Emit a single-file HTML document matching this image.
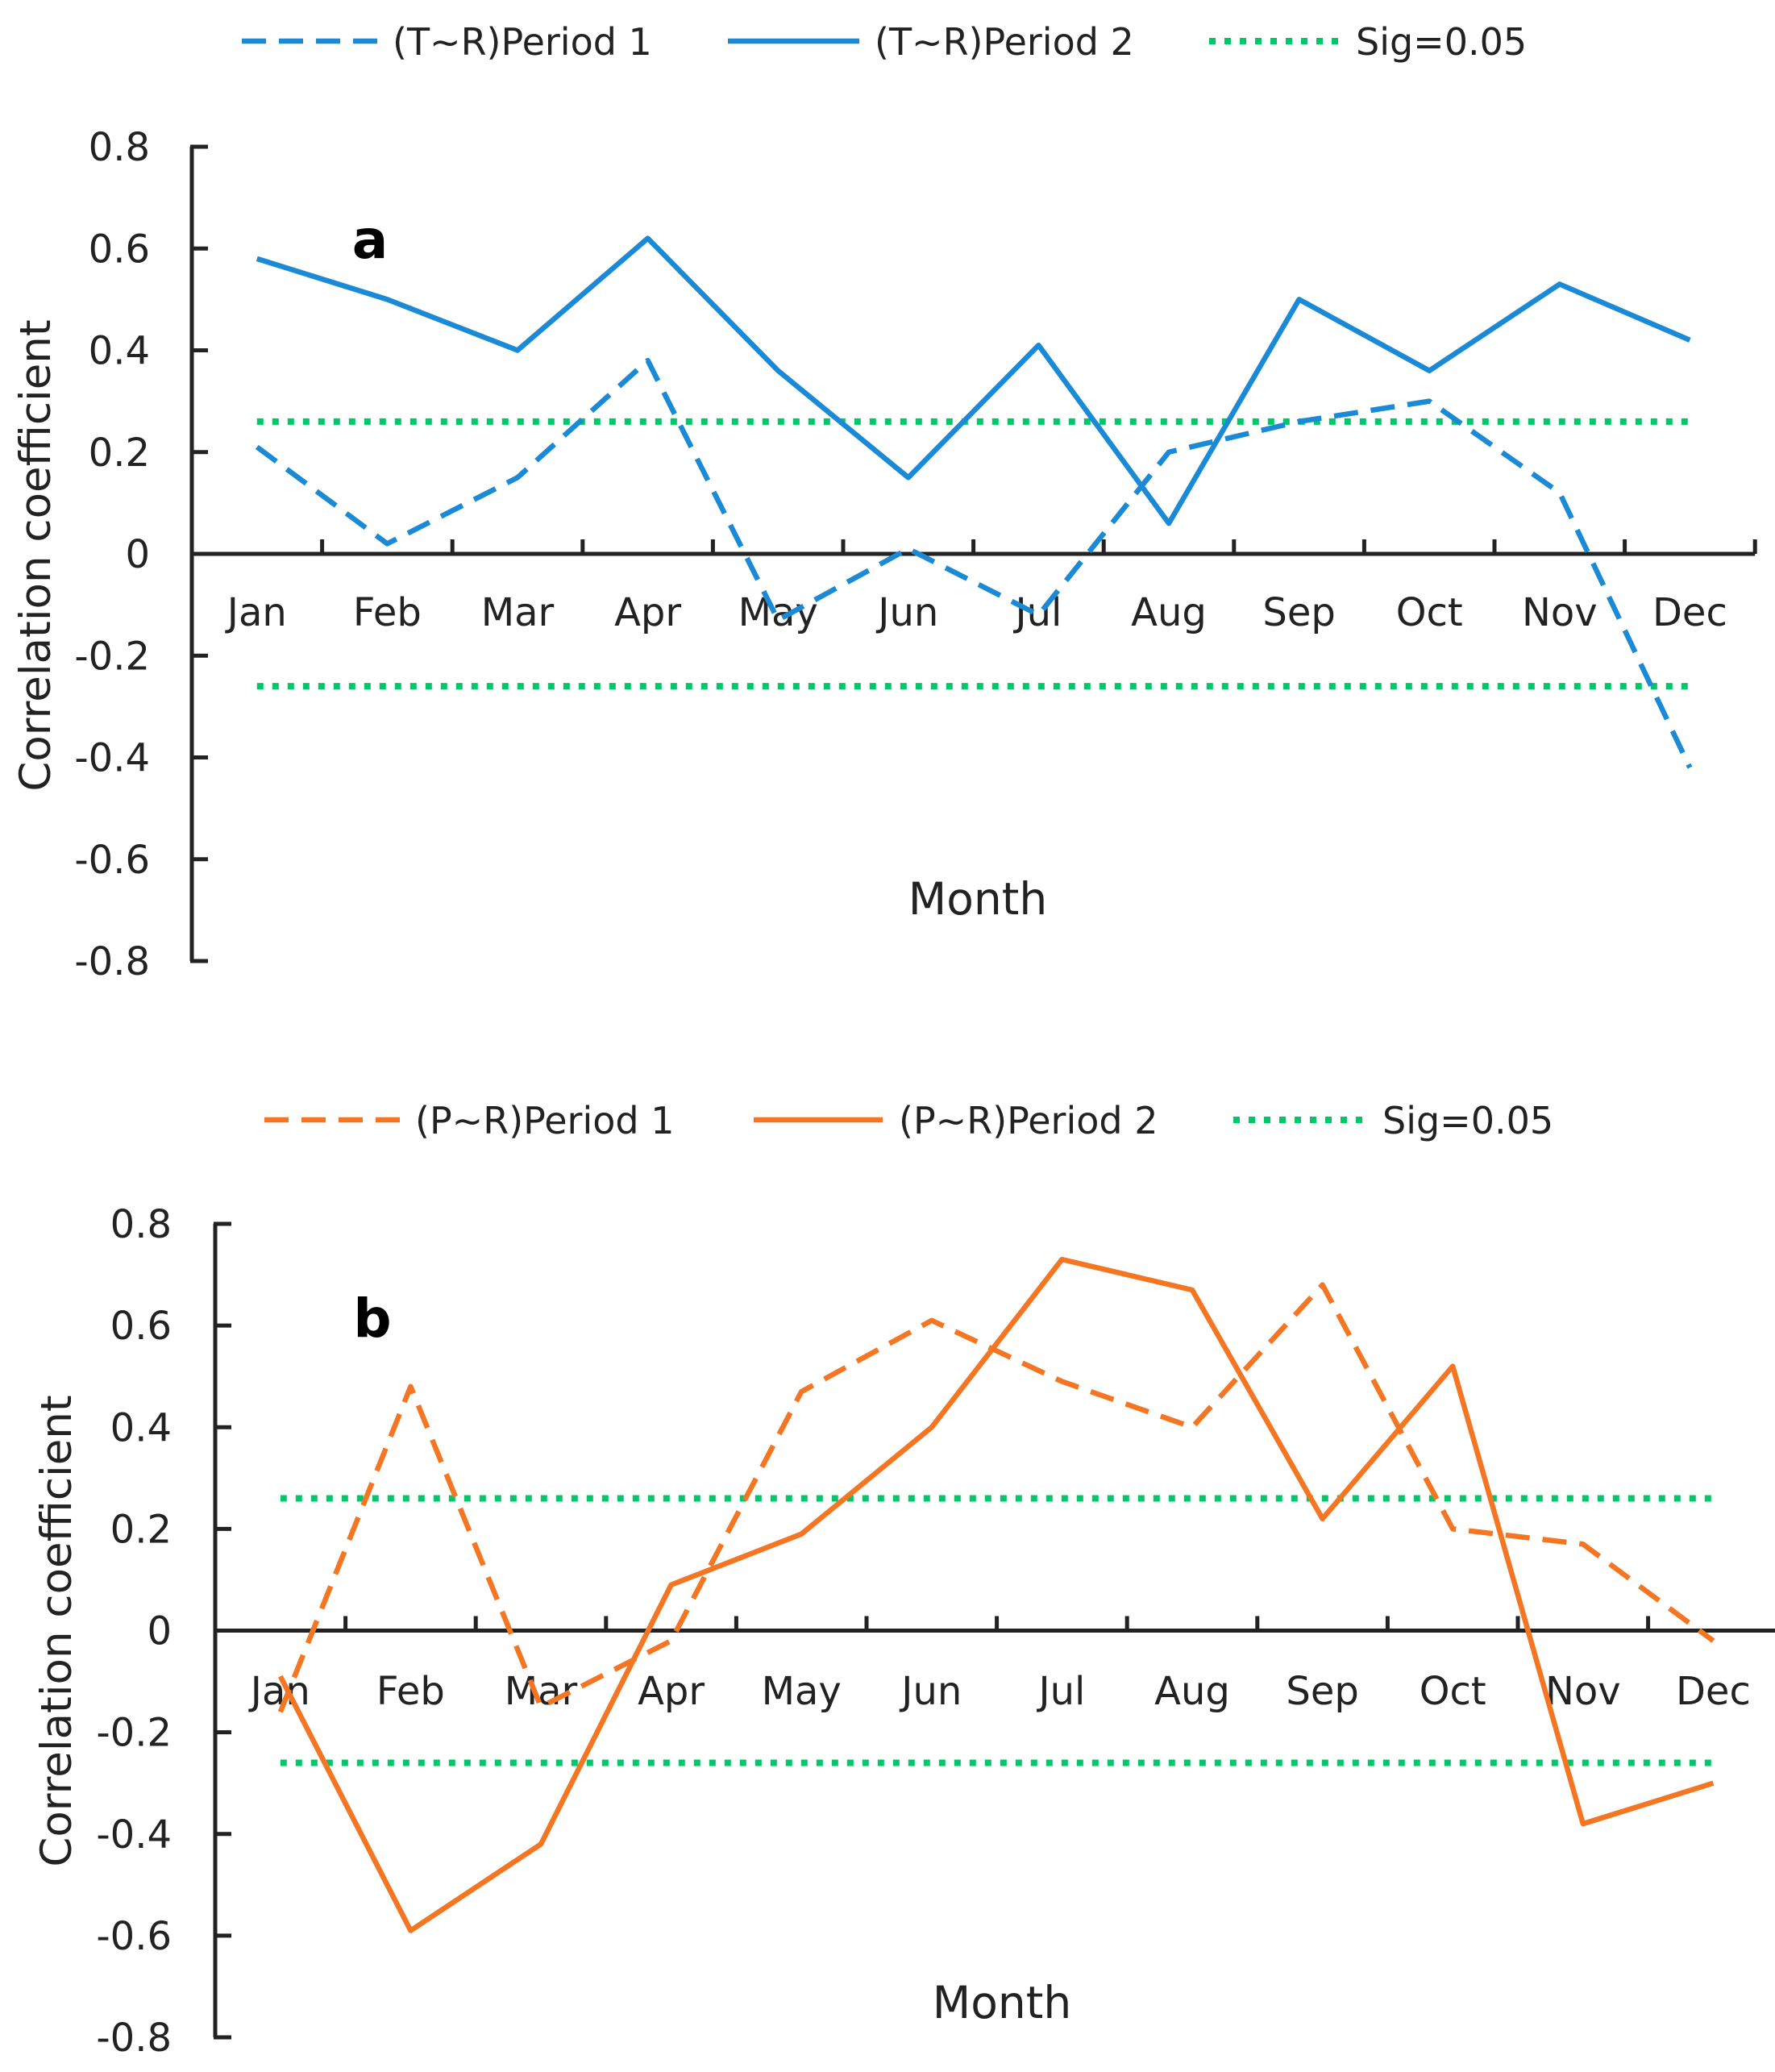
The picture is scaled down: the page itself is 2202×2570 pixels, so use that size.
<!DOCTYPE html>
<html><head><meta charset="utf-8"><style>
html,body{margin:0;padding:0;background:#fff;}
svg{display:block;font-family:"DejaVu Sans","Liberation Sans",sans-serif;}
</style></head><body>
<svg id="chart" width="2202" height="2570" viewBox="0 0 2202 2570" xmlns="http://www.w3.org/2000/svg"></svg>
<script>
const months = ["Jan","Feb","Mar","Apr","May","Jun","Jul","Aug","Sep","Oct","Nov","Dec"];
const yTicks = [0.8,0.6,0.4,0.2,0,-0.2,-0.4,-0.6,-0.8];
const yTickLabels = ["0.8","0.6","0.4","0.2","0","-0.2","-0.4","-0.6","-0.8"];
const sigLevel = 0.26;
const trPeriod1 = [0.21,0.02,0.15,0.38,-0.13,0.01,-0.12,0.20,0.26,0.30,0.12,-0.42];
const trPeriod2 = [0.58,0.50,0.40,0.62,0.36,0.15,0.41,0.06,0.50,0.36,0.53,0.42];
const prPeriod1 = [-0.16,0.48,-0.15,-0.02,0.47,0.61,0.49,0.40,0.68,0.20,0.17,-0.02];
const prPeriod2 = [-0.09,-0.59,-0.42,0.09,0.19,0.40,0.73,0.67,0.22,0.52,-0.38,-0.30];

const NS="http://www.w3.org/2000/svg";
const svg=document.getElementById('chart');
function mk(tag,attrs,parent){const e=document.createElementNS(NS,tag);for(const k in attrs)e.setAttribute(k,attrs[k]);(parent||svg).appendChild(e);return e;}
const BLUE="#1b8ad6", ORANGE="#f47622", GREEN="#00c86a";

function panel(cfg){
  const g=mk('g',{});
  
  
  const x0=cfg.axisX, cw=161.6, yTop=cfg.yTop, yBot=cfg.yBot;
  const yS=v=>yTop+(0.8-v)/1.6*(yBot-yTop);
  const xS=i=>x0+(i+0.5)*cw;
  const ya=mk('line',{x1:x0,y1:yTop,x2:x0,y2:yBot,stroke:"#222","stroke-width":5},g);
  
  yTicks.forEach((t,i)=>{
    const tk=mk('line',{x1:x0-2,y1:yS(t),x2:x0+20,y2:yS(t),stroke:"#222","stroke-width":5},g);
    
    const tl=mk('text',{x:cfg.tickRight,y:yS(t)+17,"text-anchor":"end","font-size":48,fill:"#222"},g);
    tl.textContent=yTickLabels[i];
    
  });
  const y0=yS(0), xEnd=x0+12*cw;
  const xa=mk('line',{x1:x0,y1:y0,x2:xEnd,y2:y0,stroke:"#222","stroke-width":5},g);
  
  for(let i=1;i<=12;i++){
    const tk=mk('line',{x1:x0+i*cw,y1:y0,x2:x0+i*cw,y2:y0-18,stroke:"#222","stroke-width":5},g);
    
  }
  months.forEach((m,i)=>{
    const tl=mk('text',{x:xS(i),y:cfg.monthY+17,"text-anchor":"middle","font-size":48,fill:"#222"},g);
    tl.textContent=m;
    
  });
  [sigLevel,-sigLevel].forEach(s=>{
    const l=mk('line',{x1:xS(0),y1:yS(s),x2:xS(11),y2:yS(s),stroke:GREEN,"stroke-width":8,"stroke-dasharray":"8 11"},g);
    
  });
  function series(vals,color,dash,name){
    const pts=vals.map((v,i)=>xS(i)+","+yS(v)).join(" ");
    const p=mk('polyline',{points:pts,fill:"none",stroke:color,"stroke-width":6.5,"stroke-linejoin":"round"},g);
    if(dash)p.setAttribute('stroke-dasharray','30 16');
    
  }
  series(cfg.p1,cfg.color,true,cfg.p1name);
  series(cfg.p2,cfg.color,false,cfg.p2name);
  const lt=mk('text',{x:cfg.letterX,y:cfg.letterY+22,"text-anchor":"middle","font-size":66,"font-weight":"bold",fill:"#000"},g);
  lt.textContent=cfg.letter;
  
  const xt=mk('text',{x:cfg.monthTitleX,y:cfg.monthTitleY+19,"text-anchor":"middle","font-size":55,fill:"#222"},g);
  xt.textContent="Month";
  
  const yt=mk('text',{x:0,y:0,"text-anchor":"middle","font-size":53,fill:"#222",transform:`translate(${cfg.yTitleX+18},${cfg.yTitleY}) rotate(-90)`},g);
  yt.textContent="Correlation coefficient";
  
  const L=cfg.legend;
  const items=[[cfg.color,"30 16",cfg.legendNames[0],L.x1],[cfg.color,null,cfg.legendNames[1],L.x2],[GREEN,"8 11","Sig=0.05",L.x3]];
  items.forEach(([c,d,txt,xs])=>{
    const le=mk('g',{},g);
    
    const ln=mk('line',{x1:xs[0],y1:L.y,x2:xs[1],y2:L.y,stroke:c,"stroke-width":d==="8 11"?8:6.5},le);
    if(d)ln.setAttribute('stroke-dasharray',d);
    const t=mk('text',{x:xs[2],y:L.y+17,"font-size":46,fill:"#222"},le);
    t.textContent=txt;
  });
}

panel({name:'panel-a',axisX:238,yTop:182,yBot:1192,tickRight:186,monthY:759,color:BLUE,
  p1:trPeriod1,p2:trPeriod2,p1name:'tr-period-1-line',p2name:'tr-period-2-line',
  letter:'a',letterX:459,letterY:298,monthTitleX:1213,monthTitleY:1115,yTitleX:44,yTitleY:689,
  legendNames:["(T~R)Period 1","(T~R)Period 2"],
  legend:{y:51,x1:[300,476,487],x2:[903,1066,1085],x3:[1500,1662,1682]}});
panel({name:'panel-b',axisX:267,yTop:1518,yBot:2527,tickRight:213,monthY:2097,color:ORANGE,
  p1:prPeriod1,p2:prPeriod2,p1name:'pr-period-1-line',p2name:'pr-period-2-line',
  letter:'b',letterX:462,letterY:1636,monthTitleX:1243,monthTitleY:2484,yTitleX:70,yTitleY:2023,
  legendNames:["(P~R)Period 1","(P~R)Period 2"],
  legend:{y:1389,x1:[328,500,515],x2:[935,1095,1115],x3:[1530,1692,1715]}});
</script>
</body></html>
